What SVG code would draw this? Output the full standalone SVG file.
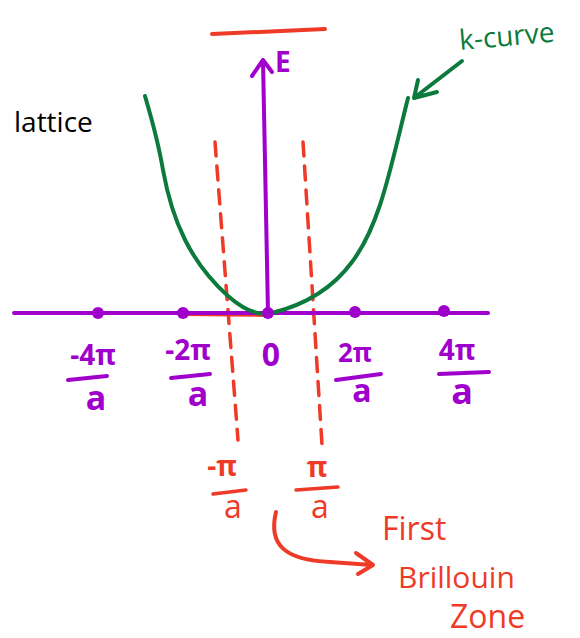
<svg xmlns="http://www.w3.org/2000/svg" width="580" height="638" viewBox="0 0 580 638">
<defs>
<style>
.p{stroke:#a000cc;fill:none;stroke-linecap:round;stroke-linejoin:round}
.pt{fill:#a000cc;font-family:"Open Sans","Liberation Sans",sans-serif;font-weight:bold}
.r{stroke:#ee3a26;fill:none;stroke-linecap:round;stroke-linejoin:round}
.rt{fill:#ee3a26;font-family:"Open Sans","Liberation Sans",sans-serif}
.g{stroke:#0b7a3c;fill:none;stroke-linecap:round;stroke-linejoin:round}
.d{stroke:#ee3a26;stroke-width:3.5;stroke-dasharray:14 10;fill:none;stroke-linecap:round}
</style>
</defs>
<rect width="580" height="638" fill="#fff"/>
<line class="r" x1="212" y1="34" x2="325" y2="29" stroke-width="4"/>
<g id="connectors">
<line class="d" x1="215" y1="142" x2="238" y2="440"/>
<line class="d" x1="303" y1="142" x2="322" y2="445"/>
<line class="r" x1="185" y1="315" x2="268" y2="316" stroke-width="2"/>
<line class="p" x1="14" y1="313" x2="488" y2="313" stroke-width="4"/>
<path class="p" d="M268,313 L263,60 M252,76 L263,60 L272,72" stroke-width="4"/>
<path class="g" d="M145,96 C152,120 158,140 163,170 C172,220 190,262 228,296 C245,311 260,316 272,313 C300,306 330,292 352,262 C380,225 390,170 408,98" stroke-width="4"/>
<path class="g" d="M462,61 L414,98 M418,80 L414,98 L437,92" stroke-width="4"/>
<path class="r" d="M276,512 C268,545 285,560 330,562 L372,565 M356,553 L373,565 L358,574" stroke-width="4"/>
</g>
<g id="dots" fill="#a000cc">
<circle cx="98" cy="313" r="6"/>
<circle cx="183" cy="313" r="6"/>
<circle cx="268" cy="313" r="6"/>
<circle cx="355" cy="312" r="6"/>
<circle cx="444" cy="311" r="6"/>
</g>
<g id="label-E"><text class="pt" x="275" y="72" font-size="28">E</text></g>
<g id="label-kcurve"><text x="460" y="50" font-size="28" fill="#0b7a3c" font-family="Open Sans,Liberation Sans,sans-serif" transform="rotate(-5 460 50)">k-curve</text></g>
<g id="label-lattice"><text x="14" y="132" font-size="28" fill="#000" font-family="Open Sans,Liberation Sans,sans-serif">lattice</text></g>
<g id="tick-m4">
<text class="pt" x="93" y="365" font-size="28" text-anchor="middle">-4π</text>
<line class="p" x1="68" y1="380" x2="107" y2="376" stroke-width="4"/>
<text class="pt" x="96" y="410" font-size="34" text-anchor="middle">a</text>
</g>
<g id="tick-m2">
<text class="pt" x="188" y="360" font-size="28" text-anchor="middle">-2π</text>
<line class="p" x1="171" y1="378" x2="210" y2="374" stroke-width="4"/>
<text class="pt" x="198" y="406" font-size="34" text-anchor="middle">a</text>
</g>
<g id="tick-0"><text class="pt" x="271" y="366" font-size="32" text-anchor="middle">0</text></g>
<g id="tick-p2">
<text class="pt" x="355" y="362" font-size="26" text-anchor="middle">2π</text>
<line class="p" x1="336" y1="380" x2="381" y2="374" stroke-width="4"/>
<text class="pt" x="362" y="402" font-size="32" text-anchor="middle">a</text>
</g>
<g id="tick-p4">
<text class="pt" x="457" y="360" font-size="28" text-anchor="middle">4π</text>
<line class="p" x1="439" y1="374" x2="489" y2="372" stroke-width="4"/>
<text class="pt" x="462" y="404" font-size="36" text-anchor="middle">a</text>
</g>
<g id="tick-mpi">
<text class="rt" x="222" y="476" font-size="28" font-weight="bold" text-anchor="middle">-π</text>
<line class="r" x1="213" y1="494" x2="246" y2="490" stroke-width="3.5"/>
<text class="rt" x="233" y="518" font-size="32" text-anchor="middle">a</text>
</g>
<g id="tick-ppi">
<text class="rt" x="317" y="477" font-size="28" font-weight="bold" text-anchor="middle">π</text>
<line class="r" x1="296" y1="490" x2="338" y2="487" stroke-width="3.5"/>
<text class="rt" x="320" y="518" font-size="32" text-anchor="middle">a</text>
</g>
<g id="label-zone">
<text class="rt" x="382" y="540" font-size="32">First</text>
<text class="rt" x="398" y="588" font-size="30">Brillouin</text>
<text class="rt" x="450" y="628" font-size="32">Zone</text>
</g>
</svg>
